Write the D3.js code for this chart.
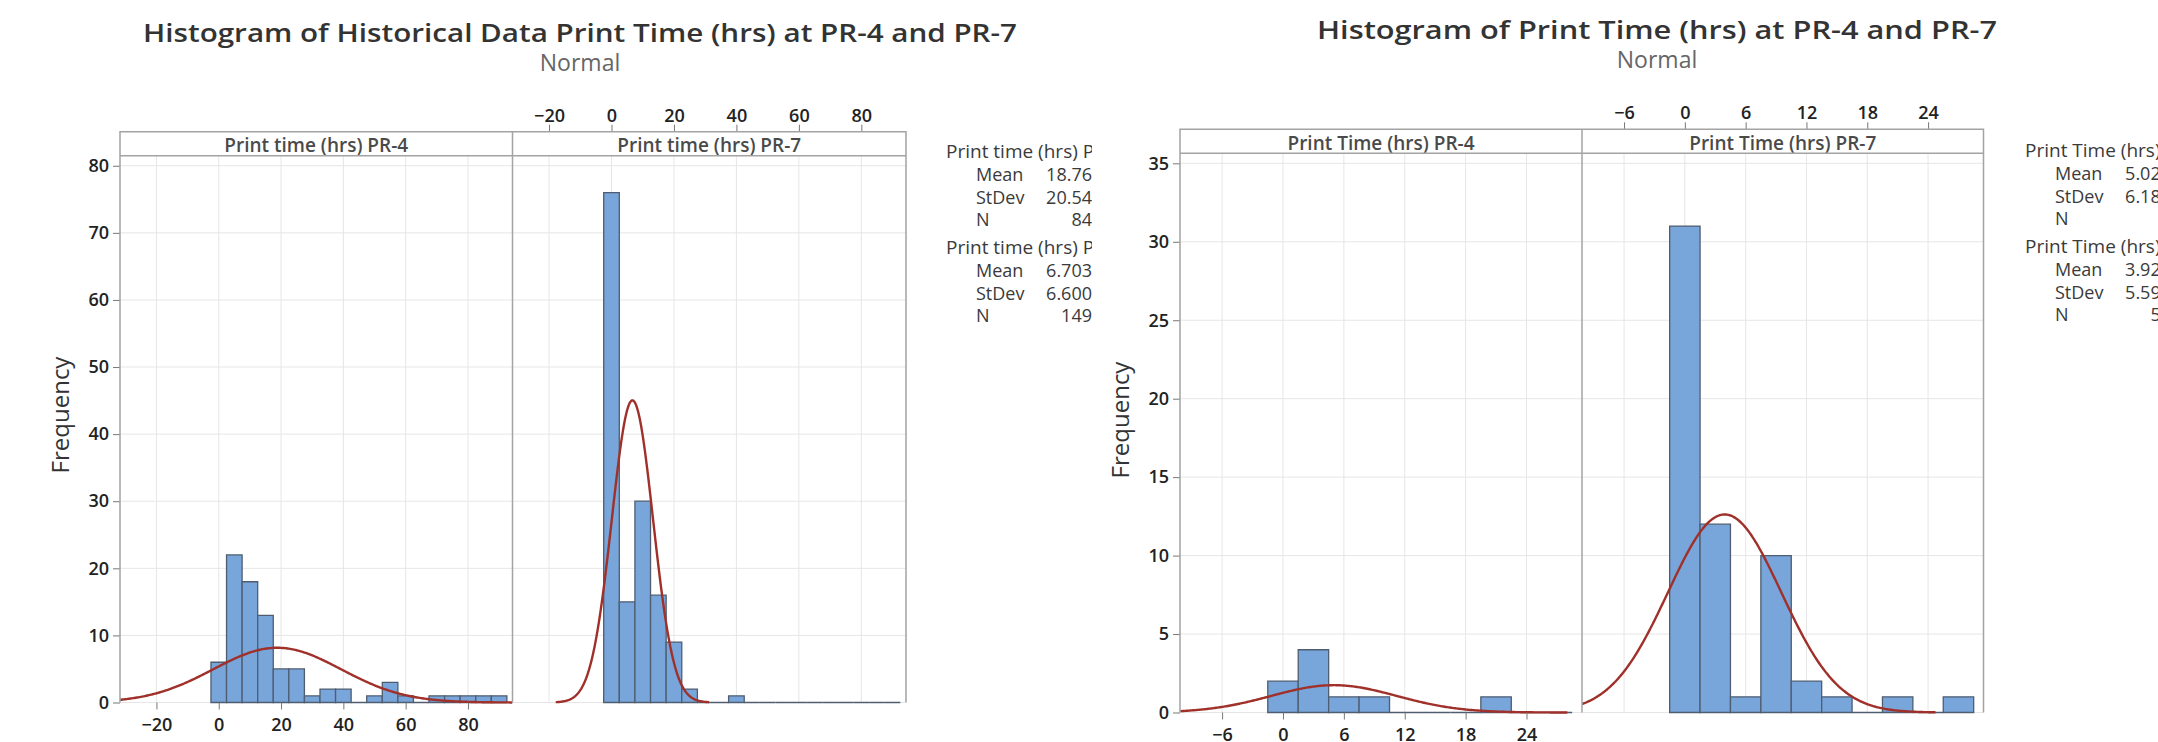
<!DOCTYPE html>
<html>
<head>
<meta charset="utf-8">
<script src="https://d3js.org/d3.v7.min.js"></script>
<title>Histograms PR-4 / PR-7</title>
<style>
body { margin: 0; background: #fff; }
text { font-family: "Open Sans", "Noto Sans", sans-serif; }
</style>
</head>
<body>
<script>
// ---- chart 1 : historical data ----
const hist1Titles = ["Histogram of Historical Data Print Time (hrs) at PR-4 and PR-7", "Normal"];
const hist1Panels = ["Print time (hrs) PR-4", "Print time (hrs) PR-7"];
const hist1Bins = [0, 5, 10, 15, 20, 25, 30, 35, 40, 45, 50, 55, 60, 65, 70, 75, 80, 85, 90];
const hist1PR4 = [6, 22, 18, 13, 5, 5, 1, 2, 2, 0, 1, 3, 1, 0, 1, 1, 1, 1, 1];
const hist1PR7 = [76, 15, 30, 16, 9, 2, 0, 0, 1, 0, 0, 0, 0, 0, 0, 0, 0, 0, 0];
const hist1Mean = [18.76, 6.703];
const hist1StDev = [20.54, 6.600];
const hist1N = [84, 149];
const hist1XTicks = [-20, 0, 20, 40, 60, 80];
const hist1YTicks = [0, 10, 20, 30, 40, 50, 60, 70, 80];

// ---- chart 2 ----
const hist2Titles = ["Histogram of Print Time (hrs) at PR-4 and PR-7", "Normal"];
const hist2Panels = ["Print Time (hrs) PR-4", "Print Time (hrs) PR-7"];
const hist2Bins = [0, 3, 6, 9, 12, 15, 18, 21, 24, 27];
const hist2PR4 = [2, 4, 1, 1, 0, 0, 0, 1, 0, 0];
const hist2PR7 = [31, 12, 1, 10, 2, 1, 0, 1, 0, 1];
const hist2Mean = [5.022, 3.924];
const hist2StDev = [6.184, 5.594];
const hist2N = [9, 59];
const hist2XTicks = [-6, 0, 6, 12, 18, 24];
const hist2YTicks = [0, 5, 10, 15, 20, 25, 30, 35];

const W = 2158, H = 742;
const svg = d3.select("body").append("svg")
    .attr("width", W).attr("height", H);

const frameCol = "#a3a3a3";
const gridCol = "#e6e6e6";

function drawChart(c) {
    const g = svg.append("g");
    const y = d3.scaleLinear().domain(c.yDom).range([c.y0, c.stripBot]);
    const xs = [
        d3.scaleLinear().domain(c.xDom).range([c.left, c.mid]),
        d3.scaleLinear().domain(c.xDom).range([c.mid, c.right])
    ];

    // titres
    g.append("text").attr("x", c.cx).attr("y", c.titleY)
        .attr("text-anchor", "middle").attr("font-size", 26).attr("font-weight", 600)
        .attr("fill", "#333").attr("textLength", c.titleW).attr("lengthAdjust", "spacingAndGlyphs")
        .text(c.titles[0]);
    g.append("text").attr("x", c.cx).attr("y", c.titleY + 29)
        .attr("text-anchor", "middle").attr("font-size", 23)
        .attr("fill", "#666").text(c.titles[1]);

    // grille horizontale
    g.append("g").selectAll("line").data(c.yTicks).enter().append("line")
        .attr("x1", c.left).attr("x2", c.right)
        .attr("y1", d => y(d)).attr("y2", d => y(d))
        .attr("stroke", gridCol).attr("stroke-width", 1);

    xs.forEach((x, i) => {
        const p = g.append("g");
        const clipId = "clip" + c.id + i;
        svg.append("clipPath").attr("id", clipId).append("rect")
            .attr("x", x.range()[0]).attr("y", c.stripBot)
            .attr("width", x.range()[1] - x.range()[0]).attr("height", c.y0 - c.stripBot + 2);

        // grille verticale
        p.selectAll("line.vg").data(c.xTicks).enter().append("line")
            .attr("class", "vg")
            .attr("x1", d => x(d)).attr("x2", d => x(d))
            .attr("y1", c.stripBot).attr("y2", c.y0)
            .attr("stroke", gridCol).attr("stroke-width", 1);

        // barres (les classes vides restent une ligne au niveau 0)
        const counts = c.counts[i];
        p.append("g").selectAll("path").data(c.bins).enter().append("path")
            .attr("d", (d, j) => {
                const x0 = x(d - c.bw / 2), x1 = x(d + c.bw / 2), yt = y(counts[j]);
                return "M" + x0 + "," + c.y0 + "V" + yt + "H" + x1 + "V" + c.y0 + "Z";
            })
            .attr("fill", "#78a5da").attr("stroke", "#4f5d70").attr("stroke-width", 1.3);

        // courbe normale
        const m = c.mean[i], s = c.sd[i], n = c.n[i];
        const lo = Math.max(c.xDom[0], m - 3.72 * s), hi = Math.min(c.xDom[1], m + 3.72 * s);
        const pts = d3.range(0, 301).map(k => {
            const v = lo + (hi - lo) * k / 300;
            const f = n * c.bw * Math.exp(-0.5 * ((v - m) / s) ** 2) / (s * Math.sqrt(2 * Math.PI));
            return [x(v), y(f)];
        });
        p.append("path").attr("d", d3.line()(pts))
            .attr("clip-path", "url(#" + clipId + ")")
            .attr("fill", "none").attr("stroke", "#a0302a").attr("stroke-width", 2.4);

        // bandeau
        p.append("text").attr("x", (x.range()[0] + x.range()[1]) / 2).attr("y", c.stripTop + 20.5)
            .attr("text-anchor", "middle").attr("font-size", 19).attr("font-weight", 600)
            .attr("fill", "#4a4a4a").text(c.panels[i]);

        // axe x : PR-4 en bas, PR-7 en haut
        const ax = (i === 0 ? d3.axisBottom(x) : d3.axisTop(x))
            .tickValues(c.xTicks).tickSize(7).tickPadding(i === 0 ? 9 : 3);
        const axG = p.append("g")
            .attr("transform", "translate(0," + (i === 0 ? c.y0 : c.stripTop) + ")")
            .call(ax);
        axG.select(".domain").remove();
        axG.selectAll("line").attr("stroke", "#777");
        axG.selectAll("text").attr("font-size", 18).attr("font-weight", 600)
            .attr("fill", "#222").style("font-family", "'Open Sans', sans-serif");
    });

    // axe y
    const ay = g.append("g").attr("transform", "translate(" + c.left + ",0)")
        .call(d3.axisLeft(y).tickValues(c.yTicks).tickSize(7).tickPadding(4));
    ay.select(".domain").remove();
    ay.selectAll("line").attr("stroke", "#777");
    ay.selectAll("text").attr("font-size", 18).attr("font-weight", 600)
        .attr("fill", "#222").style("font-family", "'Open Sans', sans-serif");

    g.append("text").attr("transform", "translate(" + c.freqX + "," + c.freqY + ") rotate(-90)")
        .attr("text-anchor", "middle").attr("dy", "0.35em").attr("font-size", 24)
        .attr("fill", "#333").text("Frequency");

    // cadre
    g.append("path")
        .attr("d", "M" + c.left + "," + c.y0 + "V" + c.stripTop + "H" + c.right + "V" + c.y0)
        .attr("fill", "none").attr("stroke", frameCol).attr("stroke-width", 1.5);
    g.append("line").attr("x1", c.left).attr("x2", c.right)
        .attr("y1", c.stripBot).attr("y2", c.stripBot)
        .attr("stroke", frameCol).attr("stroke-width", 1.5);
    g.append("line").attr("x1", c.mid).attr("x2", c.mid)
        .attr("y1", c.stripTop).attr("y2", c.y0)
        .attr("stroke", frameCol).attr("stroke-width", 1.5);

    // légende
    const lclip = "lclip" + c.id;
    svg.append("clipPath").attr("id", lclip).append("rect")
        .attr("x", c.legX - 10).attr("y", 120).attr("width", c.legClipW).attr("height", 230);
    const leg = g.append("g").attr("clip-path", "url(#" + lclip + ")")
        .attr("font-size", 18).attr("fill", "#3a3a3a");
    const fmt = d3.format(".4g");
    [0, 1].forEach(i => {
        const y0 = c.legY + i * 96;
        leg.append("text").attr("x", c.legX).attr("y", y0)
            .attr("font-size", 19).text(c.panels[i]);
        const rows = [["Mean", fmt(c.mean[i])], ["StDev", fmt(c.sd[i])], ["N", String(c.n[i])]];
        rows.forEach((r, k) => {
            leg.append("text").attr("x", c.legX + 30).attr("y", y0 + 23 + k * 22.5).text(r[0]);
            leg.append("text").attr("x", c.legX + 146).attr("y", y0 + 23 + k * 22.5)
                .attr("text-anchor", "end").text(r[1]);
        });
    });
}

drawChart({
    id: 1, titles: hist1Titles, panels: hist1Panels, bins: hist1Bins, bw: 5,
    counts: [hist1PR4, hist1PR7], mean: hist1Mean, sd: hist1StDev, n: hist1N,
    xTicks: hist1XTicks, yTicks: hist1YTicks,
    xDom: [-31.7, 94.3], yDom: [0, 81.5],
    left: 120, mid: 512.5, right: 906, stripTop: 131.7, stripBot: 155.7, y0: 702.5,
    cx: 580, titleY: 42, titleW: 874, freqX: 61, freqY: 415,
    legX: 946, legY: 158, legClipW: 156
});

drawChart({
    id: 2, titles: hist2Titles, panels: hist2Panels, bins: hist2Bins, bw: 3,
    counts: [hist2PR4, hist2PR7], mean: hist2Mean, sd: hist2StDev, n: hist2N,
    xTicks: hist2XTicks, yTicks: hist2YTicks,
    xDom: [-10.15, 29.47], yDom: [0, 35.64],
    left: 1180, mid: 1582, right: 1983.5, stripTop: 129.3, stripBot: 153.3, y0: 712.5,
    cx: 1657, titleY: 39, titleW: 680, freqX: 1121, freqY: 420,
    legX: 2025, legY: 157, legClipW: 300
});
</script>
</body>
</html>
